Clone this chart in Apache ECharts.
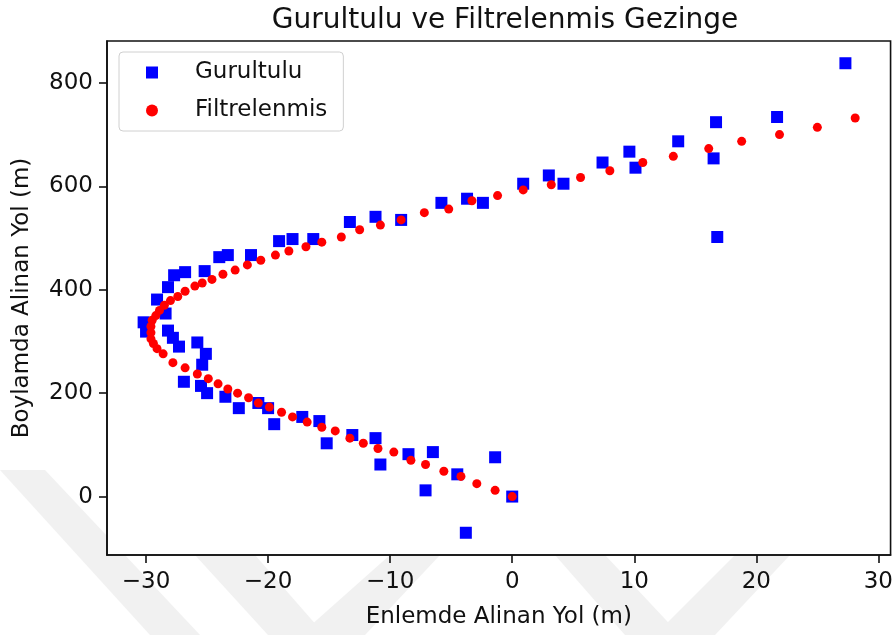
<!DOCTYPE html>
<html>
<head>
<meta charset="utf-8">
<script src="https://cdn.jsdelivr.net/npm/echarts@6/dist/echarts.min.js"></script>
<style>
  html, body { margin: 0; padding: 0; background: #fff; }
  #chart { width: 896px; height: 635px; }
</style>
</head>
<body>
<div id="chart"></div>
<script>
// Noisy position measurements (east, north) in metres
const noisyX = [0, -3.8, -1.4, -4.5, -7.1, -6.5, -8.5, -10.8, -11.2, -13.1, -15.2, -15.8, -17.2, -19.5, -20.0,
  -20.8, -22.4, -23.5, -25.0, -25.5, -26.9, -25.4, -25.1, -25.8, -27.3, -27.8, -28.2, -30.0, -30.2, -28.4,
  -29.1, -28.2, -27.7, -26.8, -25.2, -24.0, -23.3, -21.4, -19.1, -18.0, -16.3, -13.3, -11.2, -9.1, -5.8,
  -3.7, -2.4, 0.9, 3.0, 4.2, 7.4, 9.6, 10.1, 13.6, 16.5, 16.7, 16.8, 21.7, 27.3];
const noisyY = [0, -70, 76, 43, 12, 86, 82, 62, 113, 119, 103, 146, 154, 140, 171,
  181, 171, 193, 200, 214, 222, 255, 276, 298, 290, 307, 321, 319, 337, 354,
  381, 405, 428, 434, 436, 463, 467, 467, 494, 498, 498, 531, 541, 535, 568,
  576, 568, 605, 621, 605, 646, 667, 636, 687, 654, 724, 502, 734, 838];

// Filtered trajectory estimate
const filteredX = [0, -1.4, -2.9, -4.2, -5.6, -7.1, -8.3, -9.7, -11.0, -12.2, -13.3, -14.5, -15.6, -16.8, -18.0,
  -18.9, -19.9, -20.8, -21.6, -22.5, -23.3, -24.1, -24.9, -25.8, -26.8, -27.8, -28.6, -29.1, -29.4, -29.6,
  -29.6, -29.6, -29.5, -29.2, -28.9, -28.5, -28.0, -27.4, -26.8, -26.0, -25.4, -24.6, -23.7, -22.7, -21.7,
  -20.6, -19.4, -18.3, -16.9, -15.6, -14.0, -12.5, -10.8, -9.1, -7.2, -5.2, -3.3, -1.2, 0.9, 3.2,
  5.6, 8.0, 10.7, 13.2, 16.1, 18.8, 21.9, 25.0, 28.1];
const filteredY = [0, 12, 25, 39, 49, 62, 70, 86, 93, 103, 113, 127, 134, 144, 154,
  163, 173, 181, 191, 200, 208, 218, 228, 237, 249, 259, 276, 286, 296, 305,
  317, 329, 341, 350, 360, 370, 379, 387, 397, 407, 413, 420, 430, 438, 448,
  457, 467, 475, 483, 492, 502, 516, 525, 535, 549, 556, 572, 582, 593, 603,
  617, 630, 646, 658, 673, 687, 700, 714, 732];

// Axis tick positions
const xTicks = [-30, -20, -10, 0, 10, 20, 30];
const yTicks = [0, 200, 400, 600, 800];

const zip = (a, b) => a.map((v, i) => [v, b[i]]);
const minus = v => String(v).replace('-', '\u2212');
const FONT = 'DejaVu Sans';

const chart = echarts.init(document.getElementById('chart'), null, { renderer: 'canvas' });

// faint diagonal watermark bands in the page margin, kept behind a white plot panel
const band = pts => ({
  type: 'polygon', z: -10, silent: true,
  shape: { points: pts },
  style: { fill: '#f1f1f1' }
});

chart.setOption({
  backgroundColor: '#fff',
  animation: false,
  textStyle: { fontFamily: FONT },
  title: {
    text: 'Gurultulu ve Filtrelenmis Gezinge',
    left: 500, textAlign: 'center', top: 2,
    textStyle: { fontFamily: FONT, fontSize: 28, fontWeight: 'normal', color: '#111' }
  },
  graphic: [
    band([[0, 470], [45, 470], [200, 635], [150, 635]]),
    band([[195, 555], [255, 555], [325, 635], [268, 635]]),
    band([[300, 635], [365, 635], [440, 555], [390, 555]]),
    band([[555, 555], [605, 555], [680, 635], [625, 635]]),
    band([[655, 635], [715, 635], [790, 555], [735, 555]]),
    {
      type: 'rect', z: -9, silent: true,
      shape: { x: 107, y: 41, width: 787, height: 514 },
      style: { fill: '#fff' }
    }
  ],
  grid: {
    left: 107, right: 2, top: 41, bottom: 80,
    show: true, backgroundColor: '#fff', borderColor: '#111', borderWidth: 1.6
  },
  legend: {
    orient: 'vertical', left: 119, top: 52,
    padding: [9, 16, 9, 27], itemGap: 15,
    itemWidth: 12, itemHeight: 12,
    backgroundColor: 'rgba(255,255,255,0.85)',
    borderColor: '#d0d0d0', borderWidth: 1, borderRadius: 4,
    textStyle: { fontFamily: FONT, fontSize: 23, color: '#111', padding: [0, 0, 0, 32] },
    data: [
      { name: 'Gurultulu', icon: 'rect' },
      { name: 'Filtrelenmis', icon: 'circle' }
    ]
  },
  xAxis: {
    type: 'value', min: -33.2, max: 31.0,
    name: 'Enlemde Alinan Yol (m)', nameLocation: 'middle', nameGap: 51,
    nameTextStyle: { fontFamily: FONT, fontSize: 23, color: '#111' },
    axisLine: { show: true, onZero: false, lineStyle: { color: '#111', width: 1.6 } },
    axisTick: { show: true, length: 8, customValues: xTicks, lineStyle: { color: '#111', width: 1.6 } },
    axisLabel: { customValues: xTicks, margin: 16, fontFamily: FONT, fontSize: 23, color: '#111', formatter: minus },
    splitLine: { show: false }
  },
  yAxis: {
    type: 'value', min: -113, max: 881,
    name: 'Boylamda Alinan Yol (m)', nameLocation: 'middle', nameGap: 73,
    nameTextStyle: { fontFamily: FONT, fontSize: 23, color: '#111' },
    axisLine: { show: true, onZero: false, lineStyle: { color: '#111', width: 1.6 } },
    axisTick: { show: true, length: 8, customValues: yTicks, lineStyle: { color: '#111', width: 1.6 } },
    axisLabel: { customValues: yTicks, margin: 14, fontFamily: FONT, fontSize: 23, color: '#111', formatter: minus },
    splitLine: { show: false }
  },
  series: [
    {
      name: 'Gurultulu', type: 'scatter', symbol: 'rect', symbolSize: 12,
      itemStyle: { color: '#0000ff', opacity: 1 },
      data: zip(noisyX, noisyY), z: 2
    },
    {
      name: 'Filtrelenmis', type: 'scatter', symbol: 'circle', symbolSize: 9,
      itemStyle: { color: '#ff0000', opacity: 1 },
      data: zip(filteredX, filteredY), z: 3
    }
  ]
});
</script>
</body>
</html>
